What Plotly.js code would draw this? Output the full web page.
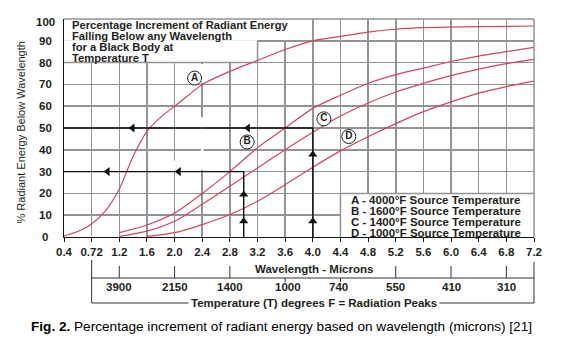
<!DOCTYPE html>
<html><head><meta charset="utf-8">
<script src="https://cdn.plot.ly/plotly-3.0.1.min.js"></script>
<style>html,body{margin:0;padding:0;background:#fff;}#chart{width:562px;height:347px;}</style>
</head><body><div id="chart"></div>
<script>
// ---------- data ----------
const wavelengthTicks = [0.4,0.8,1.2,1.6,2.0,2.4,2.8,3.2,3.6,4.0,4.4,4.8,5.2,5.6,6.0,6.4,6.8,7.2];
const wavelengthLabels = ['0.4','0.72','1.2','1.6','2.0','2.4','2.8','3.2','3.6','4.0','4.4','4.8','5.2','5.6','6.0','6.4','6.8','7.2'];
const percentTicks = [0,10,20,30,40,50,60,70,80,90,100];

const curveAx = [0.4,0.6,0.8,1.0,1.2,1.4,1.6,1.8,2.0,2.2,2.4,2.8,3.2,3.6,4.0,4.4,4.8,5.2,5.6,6.0,6.4,6.8,7.2];
const curveAy = [0.5,2.5,6,12,22,37,48.5,55,60,65,70,76,81,86,90,92,94,95.3,96,96.3,96.5,96.6,96.8];
const curveBx = [1.2,1.6,2.0,2.4,2.8,3.2,3.6,4.0,4.4,4.8,5.2,5.6,6.0,6.4,6.8,7.2];
const curveBy = [2,5.5,11,20,30,41,50,59,65,70.5,74.5,77.5,80.5,83,85,87];
const curveCx = [1.2,1.6,2.0,2.4,2.8,3.2,3.6,4.0,4.4,4.8,5.2,5.6,6.0,6.4,6.8,7.2];
const curveCy = [0.3,2.7,7.2,15,23.3,31.7,40,48,55.5,61.5,66.5,70.5,74,77,79.5,81.5];
const curveDx = [1.6,2.0,2.4,2.8,3.2,3.6,4.0,4.4,4.8,5.2,5.6,6.0,6.4,6.8,7.2];
const curveDy = [0.3,2,5.7,10.3,16.4,24,32,39.5,46,52,57.5,62,66,69,71.5];

const curveLabels = ['A','B','C','D'];
const curveLabelX = [2.29,3.05,4.16,4.52];
const curveLabelY = [72.9,43.6,54.2,46.1];

const guide50X = [0.4,4.0,4.0], guide50Y = [50,50,0];
const guide30X = [0.4,3.0,3.0], guide30Y = [30,30,0];
const arrowLeftX = [1.39,3.06,1.03,2.06], arrowLeftY = [50,50,30,30];
const arrowUpX = [3.0,3.0,4.0,4.0], arrowUpY = [19.5,7.2,37.8,7.2];

const peakWavelengths = [1.2,2.0,2.8,3.6,4.4,5.2,6.0,6.8];
const peakTemps = ['3900','2150','1400','1000','740','550','410','310'];

const titleLines = ['Percentage Increment of Radiant Energy','Falling Below any Wavelength','for a Black Body at','Temperature T'];
const legendLines = ['A - 4000°F Source Temperature','B - 1600°F Source Temperature','C - 1400°F Source Temperature','D - 1000°F Source Temperature'];

// ---------- geometry helpers ----------
const L = 64, T = 19, W = 470, H = 218, FW = 562, FH = 347;
const X0 = 0.4, X1 = 7.2;
const px = p => (p - L) / W;            // pixel x -> paper
const py = p => (T + H - p) / H;        // pixel y -> paper
const dx = v => (v - X0) / (X1 - X0);   // data x -> paper

const FONT = 'Liberation Sans, Arial, sans-serif';
const TXT = '#231f20';
const RED = '#d4455e';
const GRID = '#939393';
const GW = 1.5;

const curveStyle = {color: RED, width: 1.2, shape: 'spline', smoothing: 0.8};
const traces = [
  {x: curveAx, y: curveAy, mode: 'lines', line: curveStyle},
  {x: curveBx, y: curveBy, mode: 'lines', line: curveStyle},
  {x: curveCx, y: curveCy, mode: 'lines', line: curveStyle},
  {x: curveDx, y: curveDy, mode: 'lines', line: curveStyle},
  {x: guide50X, y: guide50Y, mode: 'lines', line: {color: '#111', width: 1.4}},
  {x: guide30X, y: guide30Y, mode: 'lines', line: {color: '#111', width: 1.4}},
  {x: arrowLeftX, y: arrowLeftY, mode: 'markers', marker: {symbol: 'triangle-left', size: 8, color: '#111'}},
  {x: arrowUpX, y: arrowUpY, mode: 'markers', marker: {symbol: 'triangle-up', size: 8, color: '#111'}},
  {x: curveLabelX, y: curveLabelY, mode: 'markers+text', text: curveLabels,
   textposition: 'middle center', textfont: {family: FONT, size: 10, weight: 'bold', color: TXT},
   marker: {symbol: 'circle', size: 14, color: '#fff', line: {color: '#222', width: 1}}}
];

const shapes = [];
const wline = (x0,y0,x1,y1,color,w,layer) => shapes.push({type:'line', xref:'x', yref:'y', x0, y0, x1, y1, layer: layer||'between', line:{color, width:w}});
// white boxes (title box and legend box)
shapes.push({type:'rect', xref:'x', yref:'y', x0:0.4, x1:4.0, y0:90, y1:100, layer:'between', fillcolor:'#fff', line:{width:0}});
shapes.push({type:'rect', xref:'x', yref:'y', x0:0.4, x1:3.2, y0:80, y1:90, layer:'between', fillcolor:'#fff', line:{width:0}});
shapes.push({type:'rect', xref:'x', yref:'y', x0:4.4, x1:7.2, y0:0, y1:20, layer:'between', fillcolor:'#fff', line:{width:0}});
// gaps in grid lines
wline(2.4,30.8,2.4,55,'#fff',2.6);
wline(2.4,70.8,2.4,79.3,'#fff',2.6);
wline(2.0,30.8,2.0,35,'#fff',2.6);
// box borders
wline(0.4,80,3.2,80,GRID,GW); wline(3.2,80,3.2,90,GRID,GW);
wline(3.2,90,4.0,90,GRID,GW); wline(4.0,90,4.0,100,GRID,GW);
wline(4.4,0,4.4,20,GRID,GW); wline(4.4,20,7.2,20,GRID,GW);
// outer top/right border
shapes.push({type:'line', xref:'paper', yref:'paper', x0:0, x1:1, y0:1, y1:1, line:{color:GRID, width:GW}});
shapes.push({type:'line', xref:'paper', yref:'paper', x0:1, x1:1, y0:0, y1:1, line:{color:GRID, width:GW}});
// secondary (temperature) bracket below the axis
const BR = '#333';
const pline = (x0,y0,x1,y1) => shapes.push({type:'line', xref:'paper', yref:'paper', x0, y0, x1, y1, line:{color:BR, width:1}});
pline(dx(0.8), py(278), dx(7.2), py(278));
pline(dx(0.8), py(260), dx(0.8), py(303));
pline(dx(7.2), py(262), dx(7.2), py(303));
pline(dx(0.8), py(303), dx(7.2), py(303));
peakWavelengths.forEach((w,i) => {
  if (i === 3 || i === 4) pline(dx(w), py(278), dx(w), py(282));
  else pline(dx(w), py(266), dx(w), py(278));
});

const annotations = [];
const ann = o => annotations.push(Object.assign({showarrow:false, xref:'paper', yref:'paper'}, o));
// y tick labels (centered)
percentTicks.forEach(v => ann({text: String(v), x: px(45), y: v, yref:'y', xanchor:'center', yanchor:'middle',
  yshift: v === 100 ? -3 : 0, font:{family:FONT, size:11.5, weight:'bold', color:TXT}}));
// title box
titleLines.forEach((t,i) => ann({text:t, x: px(70), y: py([25,36,46.8,58.3][i]), xanchor:'left', yanchor:'middle',
  font:{family:FONT, size:11.2, weight:'bold', color:TXT}}));
// legend box
legendLines.forEach((t,i) => ann({text:t, x: px(349), y: py(200 + 11*i), xanchor:'left', yanchor:'middle',
  font:{family:FONT, size:11.5, weight:'bold', color:TXT}}));
// axis titles
ann({text:'Wavelength - Microns', x: px(314), y: py(269), xanchor:'center', yanchor:'middle',
  font:{family:FONT, size:11.5, weight:'bold', color:TXT}});
peakTemps.forEach((t,i) => ann({text:t, x: peakWavelengths[i], xref:'x', xshift: (i===3?3:(i===4?-2:0)), y: py(287), xanchor:'center', yanchor:'middle',
  font:{family:FONT, size:11.5, weight:'bold', color:TXT}}));
ann({text:'Temperature (T) degrees F = Radiation Peaks', x: px(314), y: py(303), xanchor:'center', yanchor:'middle',
  bgcolor:'#fff', borderpad:2, font:{family:FONT, size:11.5, weight:'bold', color:TXT}});
ann({text:'% Radiant Energy Below Wavelength', x: px(20), y: py(132.5), textangle:-90, xanchor:'center', yanchor:'middle',
  font:{family:FONT, size:11, color:TXT}});
ann({text:'<b>Fig. 2.</b> Percentage increment of radiant energy based on wavelength (microns) [21]', x: px(29), y: py(326),
  xanchor:'left', yanchor:'middle', font:{family:FONT, size:13.6, color:'#000'}});

const layout = {
  width: FW, height: FH, margin: {l: L, r: FW - L - W, t: T, b: FH - T - H},
  paper_bgcolor: '#fff', plot_bgcolor: '#fff', showlegend: false,
  xaxis: {range: [X0, X1], tickmode: 'array', tickvals: wavelengthTicks, ticktext: wavelengthLabels,
    showgrid: true, gridcolor: GRID, gridwidth: GW, zeroline: false,
    showline: true, linecolor: '#111', linewidth: 1.4, ticks: 'outside', ticklen: 4, tickcolor: '#111',
    tickfont: {family: FONT, size: 11.5, weight: 'bold', color: TXT}},
  yaxis: {range: [0, 100], tickmode: 'array', tickvals: percentTicks, showticklabels: false,
    showgrid: true, gridcolor: GRID, gridwidth: GW, zeroline: false,
    showline: true, linecolor: '#111', linewidth: 1.4, ticks: ''},
  shapes, annotations
};
Plotly.newPlot('chart', traces, layout, {staticPlot: true, displayModeBar: false});
</script></body></html>
